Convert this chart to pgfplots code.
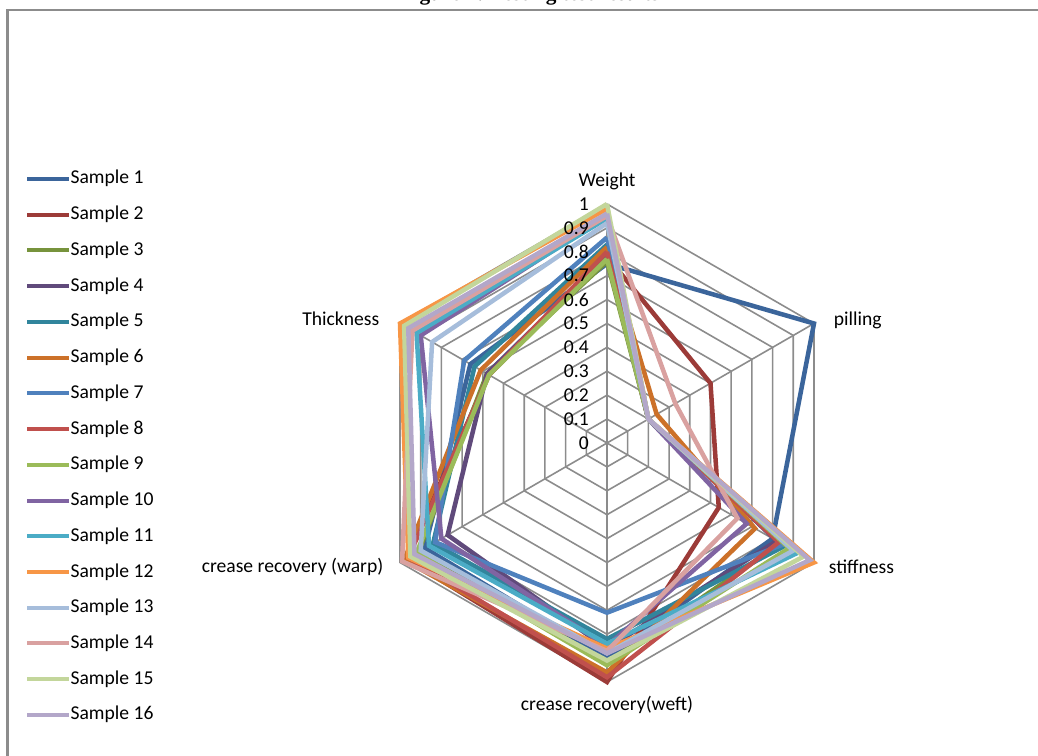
\documentclass[border=0pt]{standalone}
\usepackage{pgfplots}
\pgfplotsset{compat=1.18}
\usepackage{pgfplotstable}
\usepgfplotslibrary{polar}
\usepackage{fontspec}
\setmainfont{Carlito}
\newfontfamily\titlefont{Liberation Serif}

\definecolor{c1}{HTML}{3B659B}
\definecolor{c2}{HTML}{9C3B38}
\definecolor{c3}{HTML}{77933C}
\definecolor{c4}{HTML}{604A7B}
\definecolor{c5}{HTML}{31859C}
\definecolor{c6}{HTML}{CC7129}
\definecolor{c7}{HTML}{4F81BD}
\definecolor{c8}{HTML}{C0504D}
\definecolor{c9}{HTML}{9BBB59}
\definecolor{c10}{HTML}{8064A2}
\definecolor{c11}{HTML}{4BACC6}
\definecolor{c12}{HTML}{F79646}
\definecolor{c13}{HTML}{A6BDDB}
\definecolor{c14}{HTML}{D9A1A0}
\definecolor{c15}{HTML}{C3D69B}
\definecolor{c16}{HTML}{B3A7C9}
\definecolor{gridc}{HTML}{8C8C8C}

% angle: Weight 90, pilling 30, stiffness 330, weft 270, warp 210, Thickness 150
\pgfplotstableread{
angle s1   s2   s3   s4   s5   s6    s7   s8   s9   s10   s11  s12  s13   s14  s15  s16
90    0.75 0.78 0.76 0.78 0.83 0.82  0.86 0.80 0.77 0.95  0.94 0.98 0.92  0.95 1.00 0.96
30    1.00 0.50 0.20 0.20 0.20 0.24  0.20 0.20 0.20 0.20  0.20 0.20 0.20  0.33 0.20 0.20
330   0.80 0.54 0.84 0.82 0.86 0.715 0.85 0.83 0.88 0.675 0.92 1.00 0.90  0.63 0.95 0.98
270   0.90 1.00 0.92 0.86 0.82 0.96  0.71 0.98 0.93 0.85  0.84 0.86 0.88  0.87 0.91 0.88
210   0.88 0.97 0.91 0.77 0.84 0.98  0.83 0.96 0.92 0.80  0.86 0.96 0.90  0.99 0.95 0.93
150   0.66 0.57 0.58 0.58 0.64 0.61  0.69 0.57 0.57 0.90  0.92 1.00 0.845 0.94 0.98 0.96
90    0.75 0.78 0.76 0.78 0.83 0.82  0.86 0.80 0.77 0.95  0.94 0.98 0.92  0.95 1.00 0.96
}\radar

\begin{document}
\begin{tikzpicture}
\fontsize{14.7}{17}\selectfont
\begin{polaraxis}[
  at={(455.25pt,234.75pt)}, anchor=center,
  scale only axis, width=358.5pt, height=358.5pt,
  xmin=0, xmax=360, ymin=0, ymax=1,
  hide axis, clip=false,
  ser/.style={line width=3.4pt, line join=miter, miter limit=2},
  legend cell align=left,
  legend style={at={(-0.726,1.0774)}, anchor=north west, draw=none, fill=none,
    font=\fontsize{14.7}{17}\selectfont, row sep=13.3pt,
    nodes={inner sep=0pt, text height=10.5pt, text depth=3pt}},
  legend image code/.code={\draw[#1, line width=3pt] (0pt,0pt) -- (31pt,0pt);},
]
\pgfplotsinvokeforeach{0.1,0.2,0.3,0.4,0.5,0.6,0.7,0.8,0.9,1}{
  \addplot[gridc, line width=1.2pt, forget plot] coordinates
    {(90,#1) (30,#1) (330,#1) (270,#1) (210,#1) (150,#1) (90,#1)};
}
\pgfplotsinvokeforeach{90,30,330,270,210,150}{
  \addplot[gridc, line width=1.2pt, forget plot] coordinates {(#1,0) (#1,1)};
}
\addplot[c1,ser]  table[x=angle,y=s1]  {\radar}; \addlegendentry{Sample 1}
\addplot[c2,ser]  table[x=angle,y=s2]  {\radar}; \addlegendentry{Sample 2}
\addplot[c3,ser]  table[x=angle,y=s3]  {\radar}; \addlegendentry{Sample 3}
\addplot[c4,ser]  table[x=angle,y=s4]  {\radar}; \addlegendentry{Sample 4}
\addplot[c5,ser]  table[x=angle,y=s5]  {\radar}; \addlegendentry{Sample 5}
\addplot[c6,ser]  table[x=angle,y=s6]  {\radar}; \addlegendentry{Sample 6}
\addplot[c7,ser]  table[x=angle,y=s7]  {\radar}; \addlegendentry{Sample 7}
\addplot[c8,ser]  table[x=angle,y=s8]  {\radar}; \addlegendentry{Sample 8}
\addplot[c9,ser]  table[x=angle,y=s9]  {\radar}; \addlegendentry{Sample 9}
\addplot[c10,ser] table[x=angle,y=s10] {\radar}; \addlegendentry{Sample 10}
\addplot[c11,ser] table[x=angle,y=s11] {\radar}; \addlegendentry{Sample 11}
\addplot[c12,ser] table[x=angle,y=s12] {\radar}; \addlegendentry{Sample 12}
\addplot[c13,ser] table[x=angle,y=s13] {\radar}; \addlegendentry{Sample 13}
\addplot[c14,ser] table[x=angle,y=s14] {\radar}; \addlegendentry{Sample 14}
\addplot[c15,ser] table[x=angle,y=s15] {\radar}; \addlegendentry{Sample 15}
\addplot[c16,ser] table[x=angle,y=s16] {\radar}; \addlegendentry{Sample 16}
% radial tick labels
\pgfplotsinvokeforeach{0,0.1,0.2,0.3,0.4,0.5,0.6,0.7,0.8,0.9,1}{
  \node[anchor=east, inner sep=0pt, xshift=-13.5pt] at (axis cs:90,#1) {#1};
}
\end{polaraxis}
% category labels (positions in px of the reference, 1px = 0.75pt)
\begin{scope}[x=0.75pt,y=0.75pt]
\node[anchor=center] at (607,575) {Weight};
\node[anchor=west] at (827,436) {pilling};
\node[anchor=west] at (822,189) {stiffness};
\node[anchor=center] at (607,51) {crease recovery(weft)};
\node[anchor=east] at (390,189) {crease recovery (warp)};
\node[anchor=east] at (386,437) {Thickness};
\draw[gridc, line width=2pt] (7.5,-20) -- (7.5,746) -- (1060,746);
\node[anchor=base, inner sep=0pt, font=\titlefont\bfseries\fontsize{16}{18}\selectfont] at (530,755) {Figure 4: Testing test results};
\pgfresetboundingbox
\path[use as bounding box] (0,0) rectangle (1038,756);
\end{scope}
\end{tikzpicture}
\end{document}
